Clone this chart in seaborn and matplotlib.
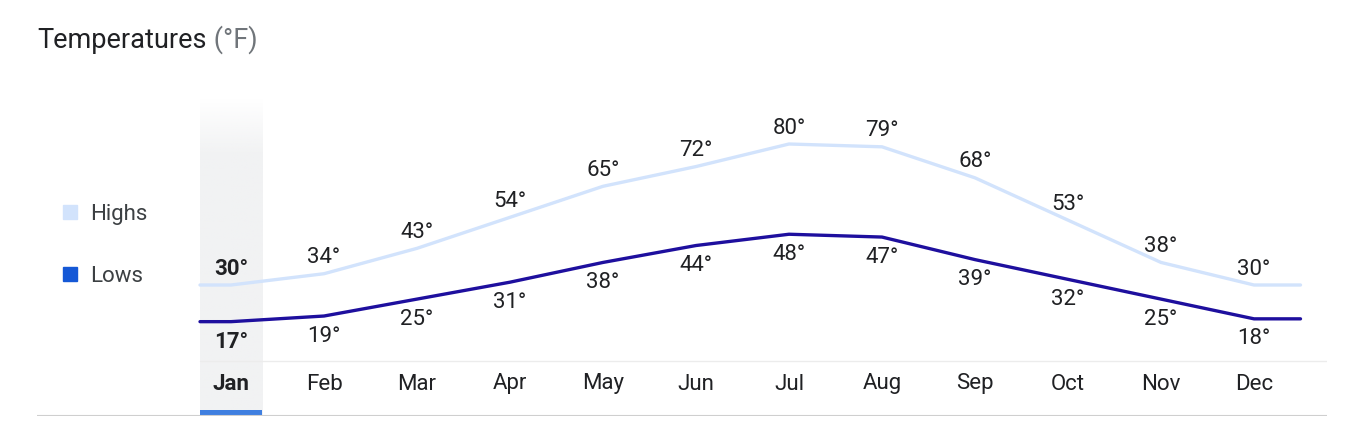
"""
Monthly temperature highs and lows (°F), drawn with seaborn.
"""

import numpy as np
import pandas as pd
import seaborn as sns
import matplotlib.pyplot as plt
from matplotlib.lines import Line2D

# Chart data
months = ['Jan', 'Feb', 'Mar', 'Apr', 'May', 'Jun',
          'Jul', 'Aug', 'Sep', 'Oct', 'Nov', 'Dec']
highs = [30, 34, 43, 54, 65, 72, 80, 79, 68, 53, 38, 30]
lows = [17, 19, 25, 31, 38, 44, 48, 47, 39, 32, 25, 18]

HIGH_COLOR = '#d2e3fc'
LOW_COLOR = '#1e0f9e'
LOW_LEGEND = '#1558d6'
TEXT = '#202124'

W, H = 1366, 442
PX_PER_DEG = 2.82
X0_PX, STEP_PX = 231, 93   # Jan centre, spacing between months
Y30_PX = 285               # pixel row of 30°
FS = 16


def main():
    sns.set_theme(style='white')
    plt.rcParams['font.family'] = ['Roboto', 'DejaVu Sans']

    fig = plt.figure(figsize=(W / 100, H / 100), dpi=100)

    # axes placed so that data coords map onto the reference layout
    left_px, right_px, top_px, bot_px = 37, 1327, 90, 416
    ax = fig.add_axes([left_px / W, (H - bot_px) / H,
                       (right_px - left_px) / W, (bot_px - top_px) / H])
    to_x = lambda px: (px - X0_PX) / STEP_PX
    to_v = lambda py: 30 + (Y30_PX - py) / PX_PER_DEG

    # selected-month column with faded top
    col_l, col_r = to_x(200), to_x(262)
    grad = np.ones((300, 1, 4))
    grad[..., :3] = np.array([241, 242, 243]) / 255
    grad[:, 0, 3] = np.clip(np.linspace(0, 1, 300) / 0.18, 0, 1)
    ax.imshow(grad, extent=[col_l, col_r, to_v(416), to_v(98)],
              aspect='auto', origin='upper', zorder=0, interpolation='bilinear')
    ax.fill_between([col_l, col_r], to_v(416), to_v(410),
                    color='#3f7fe0', lw=0, zorder=1)

    # baseline and bottom rule
    ax.plot([col_l, to_x(right_px)], [to_v(361)] * 2, color='#ececec', lw=1, zorder=1)
    ax.plot([to_x(left_px), to_x(right_px)], [to_v(416)] * 2,
            color='#cfcfcf', lw=1.5, zorder=1, solid_capstyle='butt')

    # long-form table, lines run a little past the first/last month
    xs = [col_l] + list(range(12)) + [11.5]
    df = pd.concat([
        pd.DataFrame({'x': xs, 'temp': [highs[0]] + highs + [highs[-1]], 'series': 'Highs'}),
        pd.DataFrame({'x': xs, 'temp': [lows[0]] + lows + [lows[-1]], 'series': 'Lows'}),
    ])
    sns.lineplot(data=df, x='x', y='temp', hue='series', sort=False,
                 palette={'Highs': HIGH_COLOR, 'Lows': LOW_COLOR},
                 linewidth=2.4, legend=False, ax=ax, zorder=3)
    ax.set_xlim(to_x(left_px), to_x(right_px))
    ax.set_ylim(to_v(bot_px), to_v(top_px))
    ax.axis('off')

    # value labels
    for i, (hi, lo) in enumerate(zip(highs, lows)):
        weight = 'bold' if i == 0 else 'normal'
        ax.annotate(f'{hi}°', (i, hi), xytext=(0, 11.5), textcoords='offset points',
                    ha='center', va='center', fontsize=FS, color=TEXT, fontweight=weight)
        ax.annotate(f'{lo}°', (i, lo), xytext=(0, -14.5), textcoords='offset points',
                    ha='center', va='center', fontsize=FS, color=TEXT, fontweight=weight)

    # month labels
    for i, m in enumerate(months):
        ax.text(i, to_v(384), m, ha='center', va='center', fontsize=FS,
                color=TEXT, fontweight='bold' if i == 0 else 'normal')

    # legend
    handles = [Line2D([], [], marker='s', ls='', color=HIGH_COLOR, markersize=10),
               Line2D([], [], marker='s', ls='', color=LOW_LEGEND, markersize=10)]
    fig.legend(handles, ['Highs', 'Lows'], loc='upper left',
               bbox_to_anchor=(48 / W, 1 - 193 / H), frameon=False,
               fontsize=FS, labelspacing=1.85, handletextpad=0.4,
               handlelength=1.0, borderpad=0, labelcolor='#3c4043')

    # title in two colours
    t1 = fig.text(37 / W, 1 - 40 / H, 'Temperatures', fontsize=19.5,
                  color=TEXT, va='center', ha='left')
    fig.canvas.draw()
    bb = t1.get_window_extent()
    fig.text(bb.x1 / W, 1 - 40 / H, ' (°F)', fontsize=19.5,
             color='#70757a', va='center', ha='left')

    plt.savefig('out.png', dpi=100)
    plt.close()


if __name__ == "__main__":
    main()
